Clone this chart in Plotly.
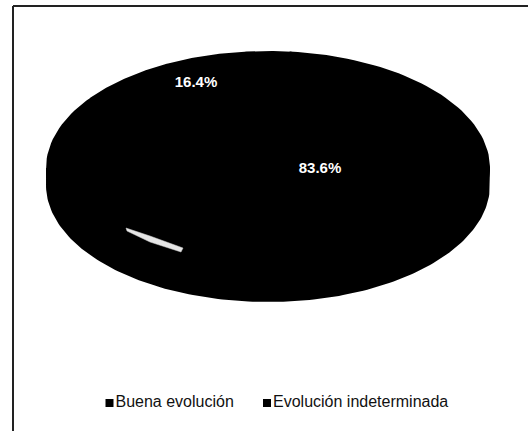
import numpy as np
import plotly.graph_objects as go

# Outcome shares (percent)
categories = ["Buena evolución", "Evolución indeterminada"]
values = [16.4, 83.6]

# Elliptical 3D pie geometry (canvas pixel units)
W, H = 528, 431
CX, CY = 268, 168          # centre of top face
RX, RY = 221, 116          # semi-axes of top face
DEPTH = 17                 # thickness of the pie side
START_DEG = 143.2          # angle where the first slice starts (clockwise)
SLICE_COLORS = ["#000000", "#000000"]
LABEL_POS = [(196, 83), (320, 169)]
LEGEND_POS = [(109.5, 403), (267, 403)]


def arc(t0, t1, dy=0.0, n=160):
    t = np.radians(np.linspace(t0, t1, n))
    return CX + RX * np.cos(t), CY + dy - RY * np.sin(t)


fig = go.Figure()

total = sum(values)
angle = START_DEG
for name, v, col in zip(categories, values, SLICE_COLORS):
    sweep = 360.0 * v / total
    a0, a1 = angle, angle - sweep

    # side wall: the part of the slice facing the viewer (lower half)
    lo, hi = sorted([a0, a1])
    for k in range(-1, 2):
        s0 = max(lo, 180 + 360 * k)
        s1 = min(hi, 360 + 360 * k)
        if s1 > s0:
            xt, yt = arc(s0, s1)
            xb, yb = arc(s1, s0, DEPTH)
            fig.add_trace(go.Scatter(
                x=np.concatenate([xt, xb, xt[:1]]),
                y=np.concatenate([yt, yb, yt[:1]]),
                fill="toself", mode="lines", fillcolor=col,
                line=dict(color=col, width=2), hoverinfo="skip",
                showlegend=False))

    # top face
    xa, ya = arc(a0, a1)
    fig.add_trace(go.Scatter(
        x=np.concatenate([[CX], xa, [CX]]), y=np.concatenate([[CY], ya, [CY]]),
        fill="toself", mode="lines", fillcolor=col,
        line=dict(color=col, width=2), name=name,
        hoverinfo="name", showlegend=False))
    angle = a1

# percentage labels
fig.add_trace(go.Scatter(
    x=[p[0] for p in LABEL_POS], y=[p[1] for p in LABEL_POS],
    mode="text", text=[f"{v:.1f}%" for v in values],
    textfont=dict(family="Liberation Sans, Arial, sans-serif", size=15,
                  color="white", weight="bold"),
    hoverinfo="skip", showlegend=False))

# light glint on the slice edge
fig.add_shape(type="path",
              path="M 126,228 L 150,236 L 183,248 L 181,252 L 150,242 L 127,231 Z",
              fillcolor="#e6e6e6", line=dict(color="#cfcfcf", width=0.5))

# legend entries
fig.add_trace(go.Scatter(
    x=[p[0] for p in LEGEND_POS], y=[p[1] for p in LEGEND_POS],
    mode="markers+text", text=categories, textposition="middle right",
    marker=dict(symbol="square", size=8, color=SLICE_COLORS),
    textfont=dict(family="Liberation Sans, Arial, sans-serif", size=16,
                  color="#111111"),
    hoverinfo="skip", showlegend=False))

# chart frame (top and left edges)
fig.add_shape(type="line", xref="x", yref="y", x0=13, y0=6, x1=W, y1=6,
              line=dict(color="#222222", width=2))
fig.add_shape(type="line", xref="x", yref="y", x0=13, y0=6, x1=13, y1=H,
              line=dict(color="#222222", width=2))

fig.update_layout(
    width=W, height=H, margin=dict(l=0, r=0, t=0, b=0),
    paper_bgcolor="white", plot_bgcolor="white",
    xaxis=dict(range=[0, W], visible=False, fixedrange=True),
    yaxis=dict(range=[H, 0], visible=False, fixedrange=True),
    showlegend=False,
)

fig.write_html("out.html")
